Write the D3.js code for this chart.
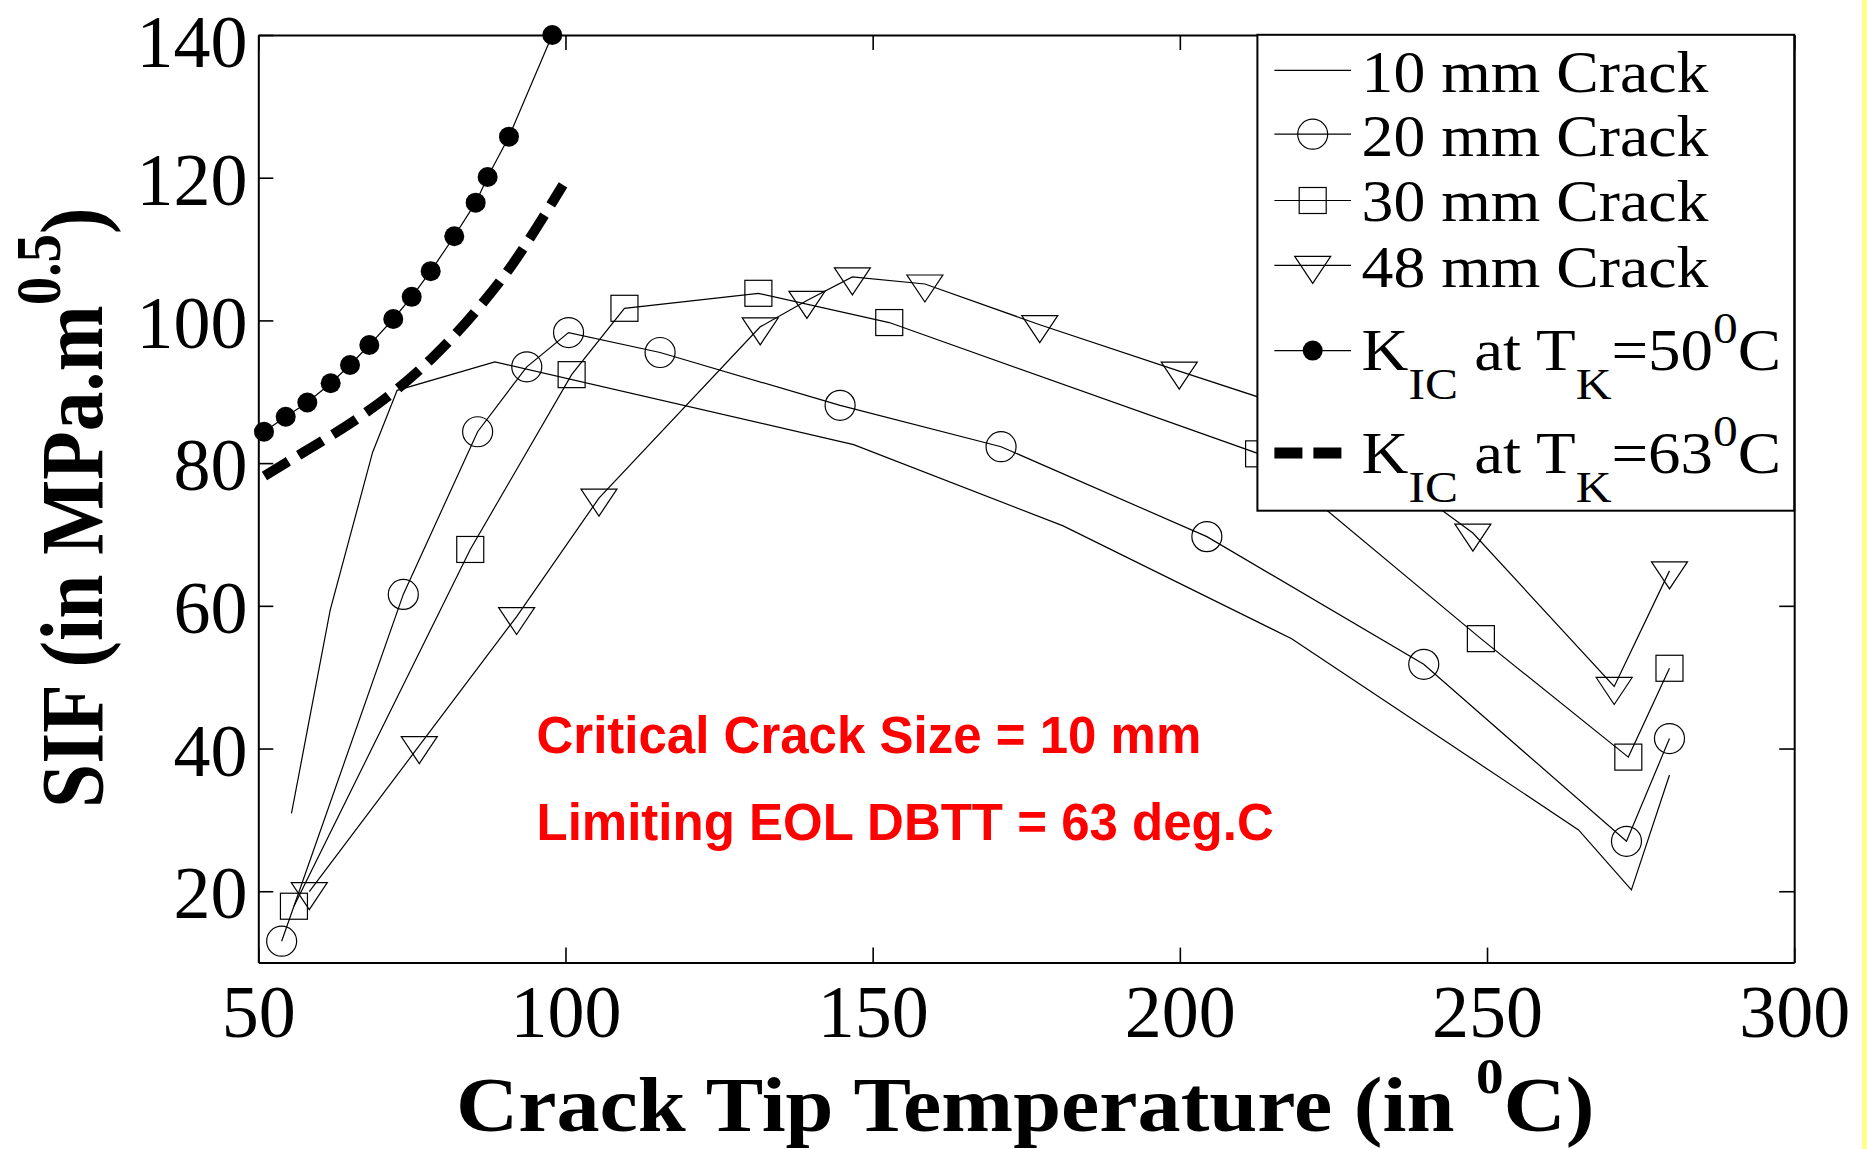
<!DOCTYPE html>
<html>
<head>
<meta charset="utf-8">
<script src="https://cdn.jsdelivr.net/npm/d3@7"></script>
<style>
  body { margin: 0; background: #fff; }
  svg { display: block; }
  text { white-space: pre; }
</style>
</head>
<body>
<svg id="chart" width="1867" height="1149"></svg>
<script>
// Axis ticks
const xTicks = [50, 100, 150, 200, 250, 300];
const yTicks = [20, 40, 60, 80, 100, 120, 140];

// Stress intensity factor (MPa.m^0.5) against crack tip temperature (deg C)
const crack10Temp = [55.4, 61.7, 68.6, 72.6, 88.5, 146.9, 181.0, 218.2, 264.9, 273.5, 279.7];
const crack10Sif  = [30.9, 59.4, 81.5, 90.2, 94.2, 82.6, 71.2, 55.4, 28.6, 20.2, 36.3];

const crack20Temp = [53.8, 73.6, 85.7, 93.7, 100.5, 115.4, 144.7, 170.9, 204.4, 239.7, 272.7, 279.7];
const crack20Sif  = [13.0, 61.6, 84.4, 93.5, 98.3, 95.5, 88.1, 82.3, 69.7, 51.8, 27.0, 41.4];

const crack30Temp = [55.8, 84.5, 101.0, 109.6, 131.4, 152.7, 212.9, 249.0, 273.0, 279.7];
const crack30Sif  = [17.9, 67.9, 92.4, 101.7, 103.8, 99.7, 81.3, 55.4, 38.8, 51.25];

const crack48Temp = [58.3, 76.2, 92.05, 105.45, 131.7, 139.3, 146.7, 158.5, 177.2, 199.9, 221.5, 247.7, 270.7, 279.7];
const crack48Sif  = [19.95, 40.4, 58.5, 75.1, 99.1, 102.8, 106.1, 105.1, 99.4, 92.9, 86.8, 70.2, 48.7, 64.9];

// Fracture toughness curves
const kic50Temp = [50.93, 54.46, 57.98, 61.78, 64.93, 68.07, 71.97, 74.97, 78.06, 81.9, 85.38, 87.33, 90.8, 97.85];
const kic50Sif  = [84.4, 86.5, 88.5, 91.2, 93.75, 96.55, 100.2, 103.3, 106.9, 111.8, 116.5, 120.1, 125.75, 140.0];

const kic63Temp = [51.0, 54.6, 60.6, 66.55, 72.5, 78.5, 85.5, 91.0, 95.3, 99.6];
const kic63Sif  = [78.2, 80.1, 83.2, 86.5, 90.3, 94.9, 101.4, 107.4, 113.0, 119.0];

const serif = '"Liberation Serif", "Times New Roman", Times, serif';
const sans = '"Liberation Sans", Arial, Helvetica, sans-serif';

const svg = d3.select('#chart');
const plot = { left: 258.3, right: 1794.2, top: 35, bottom: 962.6 };

const x = d3.scaleLinear().domain([50, 300]).range([plot.left, plot.right]);
const y = d3.scaleLinear().domain([10, 140]).range([plot.bottom, plot.top]);

svg.append('rect').attr('width', 1867).attr('height', 1149).attr('fill', '#fff');
svg.append('rect').attr('x', 1862).attr('y', 0).attr('width', 5).attr('height', 1149).attr('fill', '#ffff8c');

// ---- axes: inward ticks on all four sides ----
function styleAxis(g, withText) {
  g.attr('font-family', null).attr('font-size', null);
  g.select('.domain').attr('stroke', '#000').attr('stroke-width', 2);
  g.selectAll('.tick line').attr('stroke', '#000').attr('stroke-width', 1.6);
  if (withText) {
    g.selectAll('.tick text')
      .attr('font-family', serif)
      .attr('font-size', 74)
      .attr('fill', '#000');
  }
}

const gBottom = svg.append('g')
  .attr('transform', `translate(0,${plot.bottom})`)
  .call(d3.axisBottom(x).tickValues(xTicks).tickSize(-15).tickSizeOuter(0).tickPadding(21.5));
styleAxis(gBottom, true);

const gLeft = svg.append('g')
  .attr('transform', `translate(${plot.left},0)`)
  .call(d3.axisLeft(y).tickValues(yTicks).tickSize(-15).tickSizeOuter(0).tickPadding(10.8));
styleAxis(gLeft, true);
// the top label sits right at the upper edge; nudge it just inside the page
gLeft.selectAll('.tick text').attr('dy', d => d === 140 ? '0.42em' : '0.36em');

const gTop = svg.append('g')
  .attr('transform', `translate(0,${plot.top})`)
  .call(d3.axisTop(x).tickValues(xTicks).tickSize(-15).tickSizeOuter(0).tickFormat(''));
styleAxis(gTop, false);

const gRight = svg.append('g')
  .attr('transform', `translate(${plot.right},0)`)
  .call(d3.axisRight(y).tickValues(yTicks).tickSize(-15).tickSizeOuter(0).tickFormat(''));
styleAxis(gRight, false);

// ---- markers ----
function drawMarker(g, type, cx, cy) {
  if (type === 'circle') {
    g.append('circle').attr('cx', cx).attr('cy', cy).attr('r', 15)
      .attr('fill', 'none').attr('stroke', '#000').attr('stroke-width', 1.2);
  } else if (type === 'square') {
    g.append('rect').attr('x', cx - 13.5).attr('y', cy - 13).attr('width', 27).attr('height', 26)
      .attr('fill', 'none').attr('stroke', '#000').attr('stroke-width', 1.2);
  } else if (type === 'triangle') {
    g.append('path')
      .attr('d', `M${cx - 18},${cy - 9}L${cx + 18},${cy - 9}L${cx},${cy + 18}Z`)
      .attr('fill', 'none').attr('stroke', '#000').attr('stroke-width', 1.2);
  } else if (type === 'dot') {
    g.append('circle').attr('cx', cx).attr('cy', cy).attr('r', 10).attr('fill', '#000');
  }
}

const line = d3.line().x(d => x(d[0])).y(d => y(d[1]));
const smoothLine = d3.line().x(d => x(d[0])).y(d => y(d[1])).curve(d3.curveMonotoneX);

const series = [
  { temp: crack10Temp, sif: crack10Sif, marker: null },
  { temp: crack20Temp, sif: crack20Sif, marker: 'circle' },
  { temp: crack30Temp, sif: crack30Sif, marker: 'square' },
  { temp: crack48Temp, sif: crack48Sif, marker: 'triangle' },
  { temp: kic50Temp, sif: kic50Sif, marker: 'dot' }
];

const gData = svg.append('g');
series.forEach(s => {
  const pts = d3.zip(s.temp, s.sif);
  gData.append('path').attr('d', line(pts))
    .attr('fill', 'none').attr('stroke', '#000').attr('stroke-width', 1.2)
    .attr('stroke-linejoin', 'miter');
  if (s.marker) pts.forEach(p => drawMarker(gData, s.marker, x(p[0]), y(p[1])));
});

gData.append('path').attr('d', smoothLine(d3.zip(kic63Temp, kic63Sif)))
  .attr('fill', 'none').attr('stroke', '#000').attr('stroke-width', 10)
  .attr('stroke-dasharray', '28,12');

// ---- annotation ----
const note = svg.append('g').attr('font-family', sans).attr('font-weight', 'bold')
  .attr('font-size', 51).attr('fill', '#ff0000');
note.append('text').attr('x', 536.5).attr('y', 753.3).text('Critical Crack Size = 10 mm');
note.append('text').attr('x', 536.5).attr('y', 840).text('Limiting EOL DBTT = 63 deg.C');

// ---- legend ----
const legend = svg.append('g');
legend.append('rect')
  .attr('x', 1257.4).attr('y', 34.8).attr('width', 536.8).attr('height', 475.9)
  .attr('fill', '#fff').attr('stroke', '#000').attr('stroke-width', 2);

const legendRows = [
  { lineY: 70.3, base: 92, marker: null, sx: 1.08, parts: [['10 mm Crack', 0]] },
  { lineY: 134.2, base: 156.2, marker: 'circle', sx: 1.08, parts: [['20 mm Crack', 0]] },
  { lineY: 200.5, base: 221.4, marker: 'square', sx: 1.08, parts: [['30 mm Crack', 0]] },
  { lineY: 265.4, base: 287.4, marker: 'triangle', sx: 1.08, parts: [['48 mm Crack', 0]] },
  { lineY: 350.6, base: 369.5, marker: 'dot', sx: 1.1,
    parts: [['K', 0], ['IC', 1], [' at T', 0], ['K', 1], ['=50', 0], ['0', -1], ['C', 0]] },
  { lineY: 453, base: 473, marker: 'dash', sx: 1.1,
    parts: [['K', 0], ['IC', 1], [' at T', 0], ['K', 1], ['=63', 0], ['0', -1], ['C', 0]] }
];

legendRows.forEach(r => {
  if (r.marker === 'dash') {
    legend.append('line').attr('x1', 1274.4).attr('x2', 1343).attr('y1', r.lineY).attr('y2', r.lineY)
      .attr('stroke', '#000').attr('stroke-width', 11).attr('stroke-dasharray', '28,11');
  } else {
    legend.append('line').attr('x1', 1274.4).attr('x2', 1351).attr('y1', r.lineY).attr('y2', r.lineY)
      .attr('stroke', '#000').attr('stroke-width', 1.2);
    if (r.marker) drawMarker(legend, r.marker, 1312.7, r.lineY);
  }
  const t = legend.append('text')
    .attr('transform', `translate(1361.6,${r.base}) scale(${r.sx},1)`)
    .attr('font-family', serif).attr('font-size', 59).attr('fill', '#000');
  let level = 0;
  r.parts.forEach(([str, pos]) => {
    const shift = pos === 1 ? 29 : pos === -1 ? -27 : 0;
    const ts = t.append('tspan').attr('dy', shift - level).text(str);
    if (pos !== 0) ts.attr('font-size', 45);
    level = shift;
  });
});

// ---- axis titles ----
const xTitle = svg.append('text')
  .attr('transform', 'translate(456,1131) scale(1.105,1)')
  .attr('font-family', serif).attr('font-weight', 'bold').attr('font-size', 78).attr('fill', '#000');
xTitle.append('tspan').text('Crack Tip Temperature (in ');
xTitle.append('tspan').attr('font-size', 50).attr('dy', -38).text('0');
xTitle.append('tspan').attr('dy', 38).text('C)');

const yTitle = svg.append('text')
  .attr('transform', 'translate(101.5,808) rotate(-90) scale(1,1.11)')
  .attr('font-family', serif).attr('font-weight', 'bold').attr('font-size', 79.5).attr('fill', '#000');
yTitle.append('tspan').text('SIF (in MPa.m');
yTitle.append('tspan').attr('font-size', 57).attr('dy', -37).text('0.5');
yTitle.append('tspan').attr('dy', 37).text(')');
</script>
</body>
</html>
